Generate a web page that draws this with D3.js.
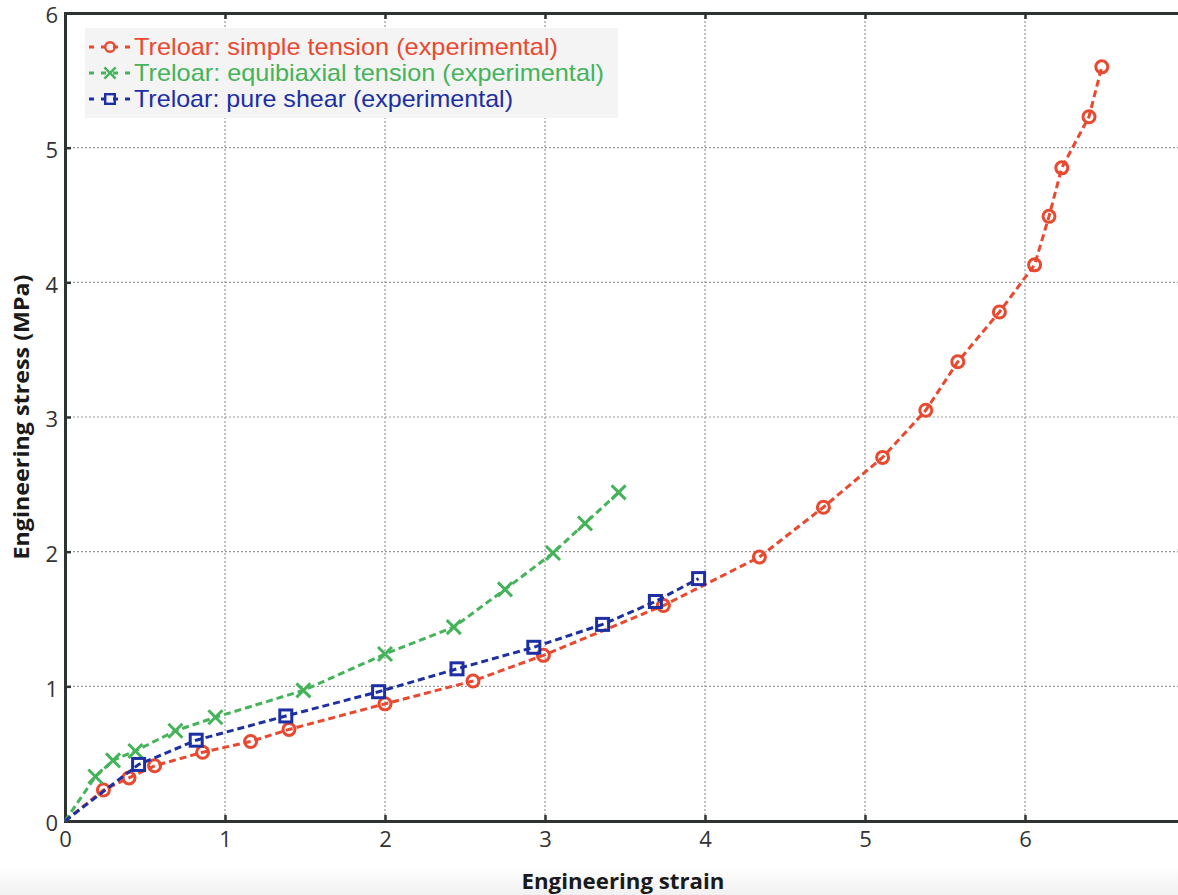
<!DOCTYPE html>
<html>
<head>
<meta charset="utf-8">
<script src="https://cdn.jsdelivr.net/npm/d3@7"></script>
<style>
  body { margin: 0; background: #fff; overflow: hidden; }
  svg { display: block; }
</style>
</head>
<body>
<script>
// Treloar experimental data (strain, stress in MPa)
let tensionStrain = [0, 0.24, 0.40, 0.56, 0.86, 1.16, 1.40, 2.0, 2.55, 2.99, 3.74, 4.34, 4.74, 5.11, 5.38, 5.58, 5.84, 6.06, 6.15, 6.23, 6.40, 6.48];
let tensionStress = [0, 0.23, 0.32, 0.41, 0.51, 0.59, 0.68, 0.87, 1.04, 1.23, 1.60, 1.96, 2.33, 2.70, 3.05, 3.41, 3.78, 4.13, 4.49, 4.85, 5.23, 5.60];

let biaxialStrain = [0, 0.19, 0.30, 0.44, 0.69, 0.94, 1.49, 2.0, 2.43, 2.75, 3.05, 3.25, 3.46];
let biaxialStress = [0, 0.33, 0.45, 0.52, 0.67, 0.77, 0.97, 1.24, 1.44, 1.72, 1.99, 2.21, 2.44];

let shearStrain = [0, 0.46, 0.82, 1.38, 1.96, 2.45, 2.93, 3.36, 3.69, 3.96];
let shearStress = [0, 0.42, 0.60, 0.78, 0.96, 1.13, 1.29, 1.46, 1.63, 1.80];

let legendLabels = [
  "Treloar: simple tension (experimental)",
  "Treloar: equibiaxial tension (experimental)",
  "Treloar: pure shear (experimental)"
];
let xTicks = [0, 1, 2, 3, 4, 5, 6];
let yTicks = [0, 1, 2, 3, 4, 5, 6];

let width = 1178;
let height = 895;

let redColor = "#e8492f";
let greenColor = "#45b35a";
let blueColor = "#1c2fa3";
let axisColor = "#2f3433";
let gridColor = "#9a9a9a";

let svg = d3
  .select("body")
  .append("svg")
  .attr("width", width)
  .attr("height", height);

// faint grey band at the bottom of the picture
let grad = svg.append("defs").append("linearGradient")
  .attr("id", "band").attr("x1", 0).attr("y1", 0).attr("x2", 0).attr("y2", 1);
grad.append("stop").attr("offset", "0%").attr("stop-color", "#ffffff");
grad.append("stop").attr("offset", "100%").attr("stop-color", "#f1f1f1");
svg.append("rect")
  .attr("x", 0).attr("y", 866).attr("width", width).attr("height", 29)
  .attr("fill", "url(#band)");

let x = d3.scaleLinear().domain([0, 7]).range([65, 1185]);
let y = d3.scaleLinear().domain([0, 6]).range([821, 13]);

// grid
let grid = svg.append("g");
grid.selectAll(".vgrid")
  .data(xTicks.slice(1))
  .enter()
  .append("line")
  .attr("x1", d => x(d)).attr("x2", d => x(d))
  .attr("y1", y(6)).attr("y2", y(0))
  .attr("stroke", gridColor).attr("stroke-width", 1.2)
  .attr("stroke-dasharray", "2,2");
grid.selectAll(".hgrid")
  .data(yTicks.slice(1))
  .enter()
  .append("line")
  .attr("x1", x(0)).attr("x2", width)
  .attr("y1", d => y(d)).attr("y2", d => y(d))
  .attr("stroke", gridColor).attr("stroke-width", 1.2)
  .attr("stroke-dasharray", "2,2");

// axes
let xAxis = d3.axisBottom(x).tickValues(xTicks).tickSize(-6).tickPadding(10).tickFormat(d3.format("d"));
let yAxis = d3.axisLeft(y).tickValues(yTicks).tickSize(-6).tickPadding(7).tickFormat(d3.format("d"));
let xTopAxis = d3.axisTop(x).tickValues(xTicks).tickSize(-6).tickFormat("");

function styleAxis(g) {
  g.select(".domain").attr("stroke", axisColor).attr("stroke-width", 3);
  g.selectAll(".tick line").attr("stroke", axisColor).attr("stroke-width", 2.5);
  g.selectAll(".tick text")
    .attr("fill", "#333")
    .style("font-family", "'Open Sans', sans-serif")
    .style("font-size", "22px");
}

svg.append("g").attr("transform", "translate(0," + y(0) + ")").call(xAxis).call(styleAxis);
svg.append("g").attr("transform", "translate(" + x(0) + ",0)").call(yAxis).call(styleAxis)
  .selectAll(".tick text").attr("dy", "0.45em");
svg.append("g").attr("transform", "translate(0," + y(6) + ")").call(xTopAxis).call(styleAxis);

// axis titles
svg.append("text")
  .attr("x", 623).attr("y", 889)
  .attr("text-anchor", "middle")
  .style("font-family", "'Open Sans', sans-serif")
  .style("font-weight", "bold")
  .style("font-size", "21px")
  .attr("fill", "#1a1a1a")
  .attr("textLength", 203)
  .attr("lengthAdjust", "spacingAndGlyphs")
  .text("Engineering strain");
svg.append("text")
  .attr("transform", "translate(29,417) rotate(-90)")
  .attr("text-anchor", "middle")
  .style("font-family", "'Open Sans', sans-serif")
  .style("font-weight", "bold")
  .style("font-size", "21px")
  .attr("fill", "#1a1a1a")
  .attr("textLength", 285)
  .attr("lengthAdjust", "spacingAndGlyphs")
  .text("Engineering stress (MPa)");

// series
let series = [
  { xs: tensionStrain, ys: tensionStress, color: redColor, marker: "circle" },
  { xs: biaxialStrain, ys: biaxialStress, color: greenColor, marker: "cross" },
  { xs: shearStrain, ys: shearStress, color: blueColor, marker: "square" }
];

let line = d3.line().x(d => x(d[0])).y(d => y(d[1]));

function drawMarker(g, type, color, cx, cy, s) {
  if (type === "circle") {
    g.append("circle").attr("cx", cx).attr("cy", cy).attr("r", 6 * s)
      .attr("fill", "none").attr("stroke", color).attr("stroke-width", 3 * s);
  } else if (type === "square") {
    g.append("rect").attr("x", cx - 6 * s).attr("y", cy - 6 * s)
      .attr("width", 12 * s).attr("height", 12 * s)
      .attr("fill", "none").attr("stroke", color).attr("stroke-width", 3 * s);
  } else {
    let r = 7 * s;
    g.append("path")
      .attr("d", "M" + (cx - r) + "," + (cy - r) + "L" + (cx + r) + "," + (cy + r) +
        "M" + (cx - r) + "," + (cy + r) + "L" + (cx + r) + "," + (cy - r))
      .attr("stroke", color).attr("stroke-width", 3 * s).attr("fill", "none");
  }
}

series.forEach(function(s) {
  let pts = s.xs.map((v, i) => [v, s.ys[i]]);
  let g = svg.append("g");
  pts.slice(1).forEach(function(p) {
    drawMarker(g, s.marker, s.color, x(p[0]), y(p[1]), 1);
  });
  g.append("path")
    .datum(pts)
    .attr("d", line)
    .attr("fill", "none")
    .attr("stroke", s.color)
    .attr("stroke-width", 3)
    .attr("stroke-dasharray", "7,4");
});

// legend
let legendWidths = [424, 470, 379];
let legend = svg.append("g");
legend.append("rect")
  .attr("x", 85).attr("y", 28).attr("width", 533).attr("height", 90)
  .attr("fill", "#f4f4f4");
series.forEach(function(s, i) {
  let ly = 47 + i * 26;
  legend.append("line")
    .attr("x1", 89).attr("x2", 131)
    .attr("y1", ly).attr("y2", ly)
    .attr("stroke", s.color).attr("stroke-width", 3)
    .attr("stroke-dasharray", "5,7");
  drawMarker(legend, s.marker, s.color, 110, ly, 0.8);
  legend.append("text")
    .attr("x", 134).attr("y", ly + 8)
    .attr("fill", s.color)
    .style("font-family", "'Liberation Sans', Arial, sans-serif")
    .style("font-size", "24px")
    .attr("textLength", legendWidths[i])
    .attr("lengthAdjust", "spacingAndGlyphs")
    .text(legendLabels[i]);
});
</script>
</body>
</html>
